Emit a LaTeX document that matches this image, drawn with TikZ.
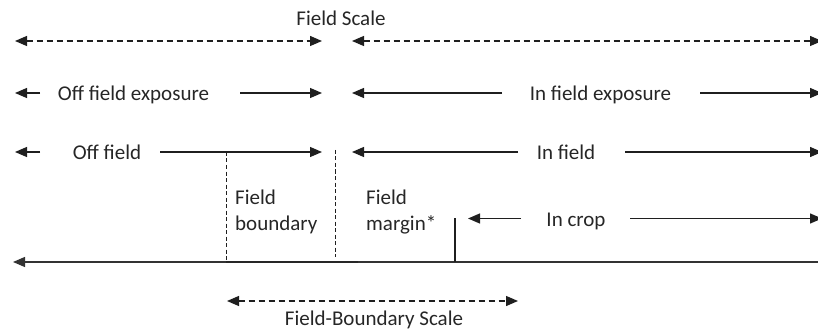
\documentclass[tikz,border=0pt]{standalone}
\usepackage{fontspec}
\setmainfont{Carlito}
\usetikzlibrary{arrows.meta}
\begin{document}
\begin{tikzpicture}[x=1pt,y=-1pt,
  lbl/.style={font=\fontsize{21}{26}\selectfont, text=black!85, inner sep=0pt, anchor=base},
  lblw/.style={font=\fontsize{21}{26}\selectfont, text=black!85, inner sep=0pt, anchor=base west, align=left},
  arr/.style={line width=1.3pt, draw=black!88, -{Triangle[length=12pt,width=10pt]}},
  darr/.style={arr, {Triangle[length=12pt,width=10pt]}-{Triangle[length=12pt,width=10pt]}, dash pattern=on 6pt off 4pt},
  vdash/.style={line width=1pt, draw=black!88, dash pattern=on 4pt off 2.5pt},
  solid line/.style={line width=1.2pt, draw=black!80}]
\useasboundingbox (0,0) rectangle (818,331);

% Row 1: Field scale
\node[lbl] (fs) at (341,26) {Field Scale};
\coordinate (r1a) at (15,41); \coordinate (r1b) at (322,41);
\coordinate (r1c) at (352,41); \coordinate (r1d) at (822,41);
\draw[darr] (r1a) -- (r1b);
\draw[darr] (r1c) -- (r1d);

% Row 2: exposure
\node[lbl] (ofe) at (133.5,100.5) {Off field exposure};
\node[lbl] (ife) at (600.5,100.5) {In field exposure};
\coordinate (r2a) at (15,93); \coordinate (r2b) at (40,93);
\coordinate (r2c) at (240,93); \coordinate (r2d) at (322,93);
\coordinate (r2e) at (352,93); \coordinate (r2f) at (502,93);
\coordinate (r2g) at (700,93); \coordinate (r2h) at (822,93);
\draw[arr] (r2b) -- (r2a);
\draw[arr] (r2c) -- (r2d);
\draw[arr] (r2f) -- (r2e);
\draw[arr] (r2g) -- (r2h);

% Row 3: field
\node[lbl] (of) at (107,160) {Off field};
\node[lbl] (inf) at (566,160) {In field};
\coordinate (r3a) at (15,152); \coordinate (r3b) at (40,152);
\coordinate (r3c) at (160,152); \coordinate (r3d) at (322,152);
\coordinate (r3e) at (352,152); \coordinate (r3f) at (518,152);
\coordinate (r3g) at (625,152); \coordinate (r3h) at (822,152);
\draw[arr] (r3b) -- (r3a);
\draw[arr] (r3c) -- (r3d);
\draw[arr] (r3f) -- (r3e);
\draw[arr] (r3g) -- (r3h);

% Row 4: boundary, margin, crop
\node[lblw] (fb1) at (235,204) {Field};
\node[lblw] (fb2) at (235,230) {boundary};
\node[lblw] (fm1) at (366,204) {Field};
\node[lblw] (fm2) at (366,230) {margin*};
\node[lbl] (crop) at (576,226) {In crop};
\coordinate (r4a) at (468,218.5); \coordinate (r4b) at (521,218.5);
\coordinate (r4c) at (630,218.5); \coordinate (r4d) at (822,218.5);
\draw[arr] (r4b) -- (r4a);
\draw[arr] (r4c) -- (r4d);

% Base line
\coordinate (b0) at (13,262); \coordinate (b1) at (818,262);
\coordinate (bl) at (226,262); \coordinate (br) at (358,262);
\draw[solid line, -{Triangle[length=12pt,width=10pt]}] (b1) -- (b0);
\draw[line width=1.6pt, draw=black!85] (bl) -- (br);

% Vertical markers
\coordinate (v1t) at (226,152); \coordinate (v1b) at (226,261);
\coordinate (v2t) at (335,150); \coordinate (v2b) at (335,257);
\coordinate (v3t) at (455,218); \coordinate (v3b) at (455,262);
\draw[vdash] (v1t) -- (v1b);
\draw[vdash] (v2t) -- (v2b);
\draw[line width=1.2pt, draw=black!88] (v3t) -- (v3b);

% Bottom: field-boundary scale
\coordinate (s1) at (227,301); \coordinate (s2) at (518,301);
\draw[darr] (s1) -- (s2);
\node[lbl] (fbs) at (374,325) {Field-Boundary Scale};
\end{tikzpicture}
\end{document}
